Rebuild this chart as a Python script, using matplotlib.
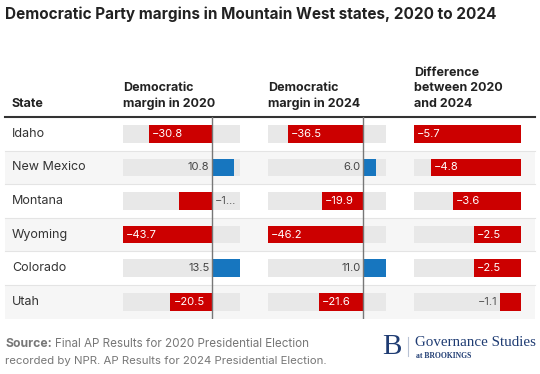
import matplotlib
matplotlib.use("Agg")
import matplotlib.pyplot as plt

# data
states = ["Idaho", "New Mexico", "Montana", "Wyoming", "Colorado", "Utah"]
margin_2020 = [-30.8, 10.8, -16.4, -43.7, 13.5, -20.5]
margin_2024 = [-36.5, 6.0, -19.9, -46.2, 11.0, -21.6]
difference = [-5.7, -4.8, -3.6, -2.5, -2.5, -1.1]
headers = ["State", "Democratic\nmargin in 2020", "Democratic\nmargin in 2024",
           "Difference\nbetween 2020\nand 2024"]

plt.rcParams["font.family"] = ["Inter", "DejaVu Sans"]

RED = "#cc0000"
BLUE = "#1776bf"
TRACK = "#e8e8e8"
TXT = "#333333"
W, H = 540, 374

fig = plt.figure(figsize=(W / 100, H / 100), dpi=100)

# background axes in pixel units for layout elements
bg = fig.add_axes([0, 0, 1, 1])
bg.set_xlim(0, W)
bg.set_ylim(H, 0)
bg.axis("off")

top, row_h = 117, 33.6
for i, s in enumerate(states):
    y0 = top + i * row_h
    if i % 2 == 1:
        bg.add_patch(plt.Rectangle((5, y0), 530, row_h, color="#f6f6f6", lw=0))
    if i > 0:
        bg.plot([5, 535], [y0, y0], color="#e4e4e4", lw=0.8)
    bg.text(12, y0 + row_h / 2, s, fontsize=9, color=TXT, va="center")
bg.plot([5, 535], [top - 0.5, top - 0.5], color="#333333", lw=1.5)

bg.text(5, 14, "Democratic Party margins in Mountain West states, 2020 to 2024",
        fontsize=11, fontweight="bold", color="#222222", va="center")
for x, h in zip([12, 123, 268, 414], headers):
    bg.text(x, 110, h, fontsize=9, fontweight="bold", color="#222222",
            va="bottom", linespacing=1.4)


def column(left, right, vals, lo, hi, zero_line=True, special=None):
    ax = fig.add_axes([left / W, 1 - (top + 6 * row_h) / H,
                       (right - left) / W, 6 * row_h / H])
    ax.set_xlim(lo, hi)
    ax.set_ylim(5.5, -0.5)
    ax.axis("off")
    span = hi - lo
    pad = span * 0.025
    for i, v in enumerate(vals):
        ax.barh(i, hi - lo, left=lo, height=0.52, color=TRACK, lw=0)
        ax.barh(i, v, height=0.52, color=RED if v < 0 else BLUE, lw=0)
        lab = f"{v:.1f}".replace("-", "\u2212")
        if special and i in special:
            ax.text(pad, i, special[i], fontsize=8, color="#555555",
                    va="center", ha="left")
        elif v >= 0:
            ax.text(-pad, i, lab, fontsize=8, color="#444444",
                    va="center", ha="right")
        elif abs(v) / span > 0.2:
            ax.text(v + pad, i, lab, fontsize=8, color="white",
                    va="center", ha="left")
        else:
            ax.text(v - pad, i, lab, fontsize=8, color="#555555",
                    va="center", ha="right")
    if zero_line:
        ax.axvline(0, color="#777777", lw=1, ymin=0, ymax=1.0)
    return ax


column(123, 240, margin_2020, min(margin_2020), max(margin_2020),
       special={2: "\u22121\u2026"})
column(268, 386, margin_2024, min(margin_2024), max(margin_2024))
column(414, 521, difference, min(difference), 0, zero_line=False)

# footer
fig.canvas.draw()
src = bg.text(5, 344, "Source:", fontsize=8.8, fontweight="bold",
              color="#777777", va="center")
fig.canvas.draw()
bb = src.get_window_extent()
bg.text(5 + bb.width + 3, 344, "Final AP Results for 2020 Presidential Election",
        fontsize=8.4, color="#777777", va="center")
bg.text(5, 361, "recorded by NPR. AP Results for 2024 Presidential Election.",
        fontsize=8.2, color="#777777", va="center")

NAVY = "#1f3c73"
bg.text(382, 347, "B", fontsize=21, family="Liberation Serif", color=NAVY,
        va="center")
bg.plot([408, 408], [337, 356], color="#b8c2d4", lw=0.8)
bg.text(415, 342, "Governance Studies", fontsize=10.8,
        family="Liberation Serif", color=NAVY, va="center")
bg.text(416, 356, "at BROOKINGS", fontsize=5.5, fontweight="bold",
        family="Liberation Serif", color=NAVY, va="center")

fig.savefig("out.png", dpi=100)
